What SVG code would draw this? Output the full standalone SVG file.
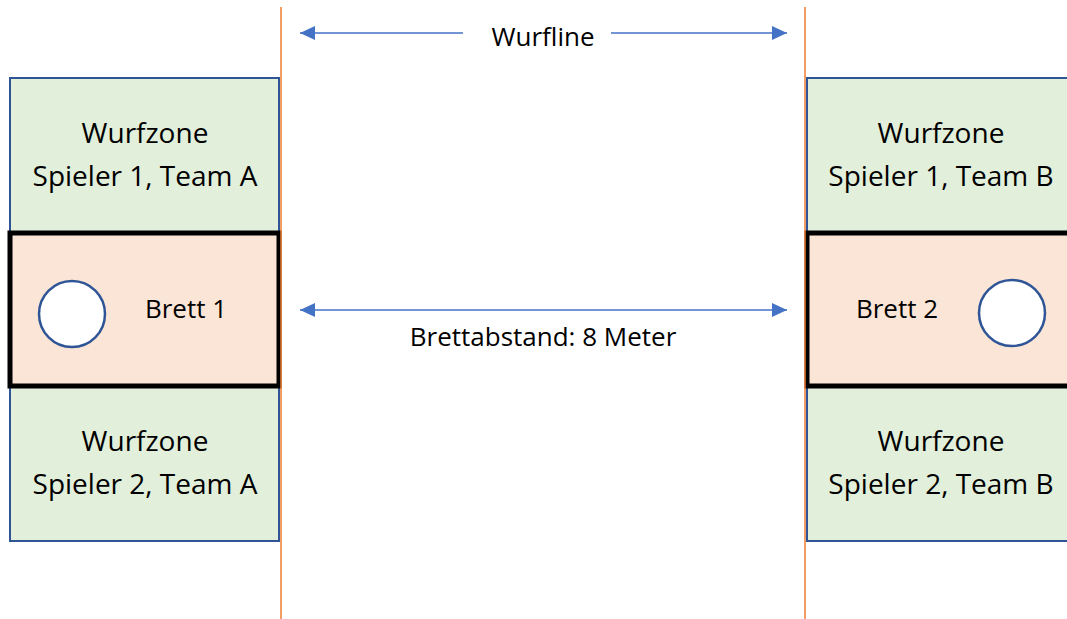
<svg xmlns="http://www.w3.org/2000/svg" width="1067" height="619" viewBox="0 0 1067 619">
<style>
.zone{fill:#E2EFDA;stroke:#2F5597;stroke-width:2}
.brett{fill:#FBE5D6;stroke:#000;stroke-width:5}
.hole{fill:#fff;stroke:#2F5597;stroke-width:2.5}
.wl{stroke:#ED7D31;stroke-width:1.5;fill:none}
.arr{stroke:#4472C4;stroke-width:1.5;fill:none}
text{font-family:"Open Sans","Liberation Sans",Arial,sans-serif;font-size:26px;fill:#000;text-anchor:middle}
text.z{font-size:28px}
</style>
<defs>
<marker id="ah2" viewBox="0 0 15 14" refX="15" refY="7" markerWidth="15" markerHeight="14" markerUnits="userSpaceOnUse" orient="auto-start-reverse">
<path d="M0,0 L15,7 L0,14 z" fill="#4472C4"/>
</marker>
</defs>
<g id="zoneA1"><rect class="zone" x="10" y="78" width="269" height="154"/><text class="z" x="145" y="143">Wurfzone</text><text class="z" x="145" y="186">Spieler 1, Team A</text></g>
<g id="zoneA2"><rect class="zone" x="10" y="387" width="269" height="154"/><text class="z" x="145" y="451">Wurfzone</text><text class="z" x="145" y="494">Spieler 2, Team A</text></g>
<g id="brett1"><rect class="brett" x="10" y="233" width="269" height="153"/><circle class="hole" cx="72" cy="314" r="33"/><text x="186" y="318">Brett 1</text></g>
<g id="zoneB1"><rect class="zone" x="807" y="78" width="270" height="154"/><text class="z" x="941" y="143">Wurfzone</text><text class="z" x="941" y="186">Spieler 1, Team B</text></g>
<g id="zoneB2"><rect class="zone" x="807" y="387" width="270" height="154"/><text class="z" x="941" y="451">Wurfzone</text><text class="z" x="941" y="494">Spieler 2, Team B</text></g>
<g id="brett2"><rect class="brett" x="807" y="233" width="270" height="153"/><circle class="hole" cx="1012" cy="313" r="33"/><text x="897" y="318">Brett 2</text></g>
<g id="wurflinien"><line class="wl" x1="281" y1="7" x2="281" y2="619"/><line class="wl" x1="805" y1="7" x2="805" y2="619"/></g>
<g id="connectors">
<line class="arr" x1="463" y1="33" x2="300" y2="33" marker-end="url(#ah2)"/>
<line class="arr" x1="611" y1="33" x2="787" y2="33" marker-end="url(#ah2)"/>
<line class="arr" x1="300" y1="310" x2="787" y2="310" marker-start="url(#ah2)" marker-end="url(#ah2)"/>
</g>
<g id="labels"><text x="543" y="46">Wurfline</text><text x="543" y="346">Brettabstand: 8 Meter</text></g>
</svg>
